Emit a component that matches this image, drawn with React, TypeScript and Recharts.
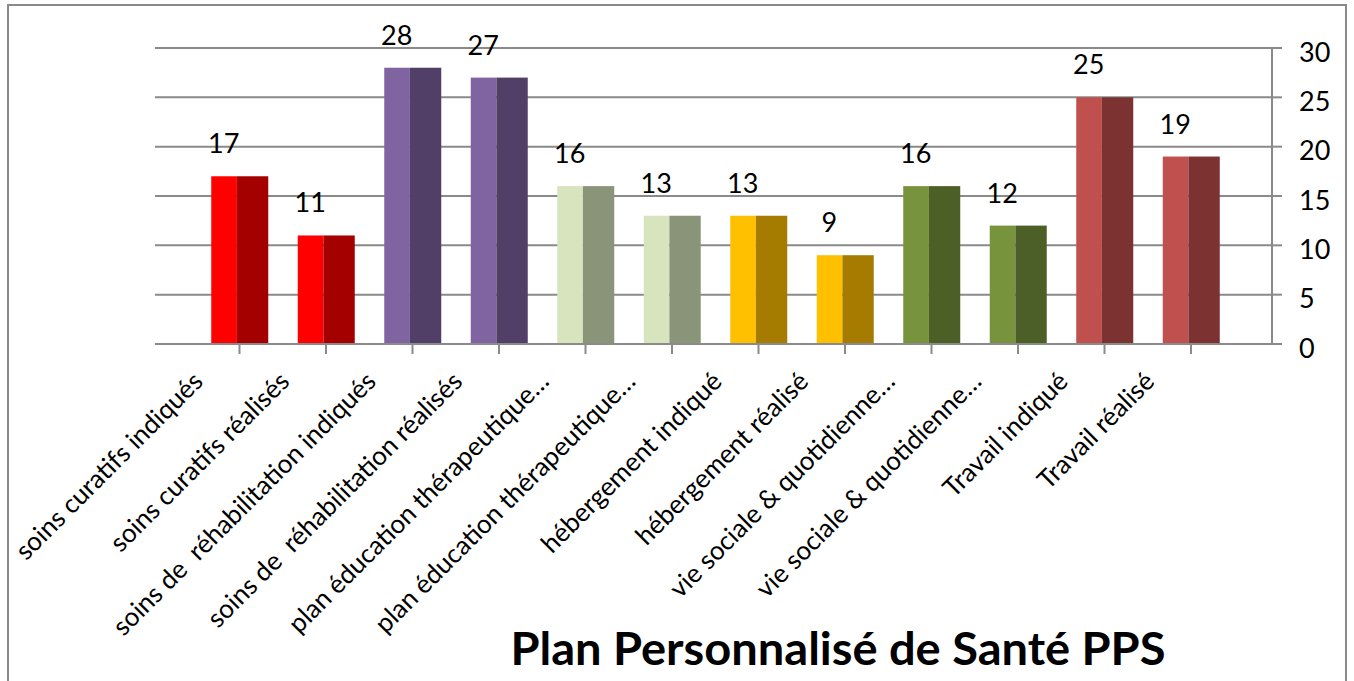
import { BarChart, Bar, XAxis, YAxis, CartesianGrid, LabelList } from 'recharts'

// Plan Personnalisé de Santé – counts per action
const categories = [
  'soins curatifs indiqués',
  'soins curatifs réalisés',
  'soins de  réhabilitation indiqués',
  'soins de  réhabilitation réalisés',
  'plan éducation thérapeutique…',
  'plan éducation thérapeutique…',
  'hébergement indiqué',
  'hébergement réalisé',
  'vie sociale & quotidienne…',
  'vie sociale & quotidienne…',
  'Travail indiqué',
  'Travail réalisé',
]
const values = [17, 11, 28, 27, 16, 13, 13, 9, 16, 12, 25, 19]
const yTicks = [0, 5, 10, 15, 20, 25, 30]
const chartTitle = 'Plan Personnalisé de Santé PPS'

// front face / side face of each pseudo-3D column
const lightColors = ['#FF0000', '#FF0000', '#8064A2', '#8064A2', '#D7E4BD', '#D7E4BD', '#FFC000', '#FFC000', '#77933C', '#77933C', '#C0504D', '#C0504D']
const darkColors = ['#A50000', '#A50000', '#523F68', '#523F68', '#8A9478', '#8A9478', '#A67C00', '#A67C00', '#4B5F26', '#4B5F26', '#7B3230', '#7B3230']

const FONT = 'Lato, "Open Sans", sans-serif'
const GRAY = '#8a8a8a'

const data = categories.map((name, i) => ({ name, value: values[i] }))

const TwoToneBar = (props: any) => {
  const { x, y, width, height, index } = props
  const split = width * 0.45
  return (
    <g>
      <rect x={x} y={y} width={split} height={height} fill={lightColors[index]} />
      <rect x={x + split} y={y} width={width - split} height={height} fill={darkColors[index]} />
    </g>
  )
}

const ValueLabel = (props: any) => {
  const { x, y, width, value } = props
  return (
    <text x={x + width / 2 - 16} y={y - 23} textAnchor="middle" fontSize={27} fontFamily={FONT} fill="#000">
      {value}
    </text>
  )
}

// labels sit half a column to the left of the tick (3D depth offset)
const CategoryTick = (props: any) => {
  const { x, y, payload } = props
  const ax = x - 43 + 8
  const ay = y + 29
  return (
    <text
      x={ax}
      y={ay}
      transform={`rotate(-45, ${ax}, ${ay})`}
      textAnchor="end"
      fontSize={26}
      fontFamily={FONT}
      fill="#000"
      style={{ whiteSpace: 'pre' }}
    >
      {payload.value}
    </text>
  )
}

export default function App() {
  return (
    <div style={{ position: 'absolute', left: 0, top: 0, width: 1354, height: 681, overflow: 'hidden', background: '#fff' }}>
      <div
        style={{
          position: 'absolute',
          left: 7,
          top: 4,
          width: 1336,
          height: 720,
          border: `2px solid ${GRAY}`,
        }}
      />
      <BarChart
        width={1354}
        height={681}
        data={data}
        margin={{ top: 48, right: 0, left: 155, bottom: 0 }}
        style={{ position: 'absolute', left: 0, top: 0 }}
      >
        <CartesianGrid vertical={false} stroke={GRAY} strokeWidth={2} />
        <XAxis
          dataKey="name"
          interval={0}
          height={337}
          padding={{ left: 41.25, right: 37.75 }}
          axisLine={{ stroke: GRAY, strokeWidth: 2 }}
          tickLine={{ stroke: GRAY, strokeWidth: 2 }}
          tickSize={10}
          tickMargin={0}
          tick={<CategoryTick />}
        />
        <YAxis
          orientation="right"
          domain={[0, 30]}
          ticks={yTicks}
          width={82}
          axisLine={{ stroke: GRAY, strokeWidth: 2 }}
          tickLine={{ stroke: GRAY, strokeWidth: 2 }}
          tickSize={10}
          tickMargin={17}
          tick={{ fill: '#000', fontSize: 27, fontFamily: FONT, dy: 4 }}
        />
        <Bar dataKey="value" barSize={57} shape={<TwoToneBar />} isAnimationActive={false}>
          <LabelList dataKey="value" content={<ValueLabel />} />
        </Bar>
      </BarChart>
      <svg width={1354} height={681} style={{ position: 'absolute', left: 0, top: 0, pointerEvents: 'none' }}>
        <text
          x={838}
          y={665}
          textAnchor="middle"
          fontSize={46}
          fontWeight={700}
          fontFamily={FONT}
          fill="#000"
          textLength={655}
          lengthAdjust="spacingAndGlyphs"
        >
          {chartTitle}
        </text>
      </svg>
    </div>
  )
}
